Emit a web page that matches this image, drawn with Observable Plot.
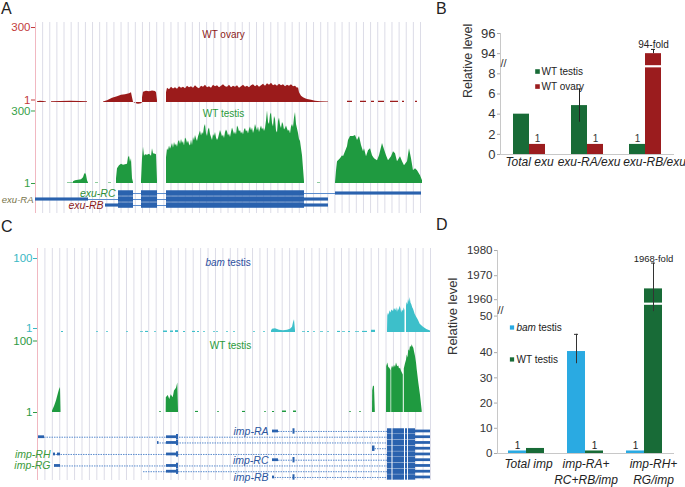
<!DOCTYPE html>
<html>
<head>
<meta charset="utf-8">
<script src="https://cdn.jsdelivr.net/npm/d3@7"></script>
<script src="https://cdn.jsdelivr.net/npm/@observablehq/plot@0.6"></script>
<style>
  body { margin: 0; background: #fff; }
  #fig { position: relative; width: 685px; height: 487px; overflow: hidden;
         font-family: "Liberation Sans", Arial, Helvetica, sans-serif; background: #fff; }
  #fig svg { overflow: visible; }
  .letter { position: absolute; font-size: 16px; color: #222; line-height: 16px; }
</style>
</head>
<body>
<div id="fig"></div>
<script>
// ================= DATA =================
// ---- Panel A: exu locus (locus position units, 0 = left edge of browser window) ----
const exuDomain = [0, 385];
const exuOvarySegs = [
  [[2,4],[5,6],[8,5],[11,3]],
  [[16,4],[25,5],[35,6],[45,5],[52,4]],
  [[68,3],[72,8],[77,18],[82,24],[86,30],[90,32],[94,36],[96,40],[97,20],[98,2],[100,-3],[103,-6],[106,-4],[107,0]],
  [[107,20],[108,42],[111,46],[114,44],[117,47],[120,45],[121,40],[122,8]],
  [[131,40],[132,58],[134,52],[136,62],[138,55],[140,60],[142,54],[144,64],[146,58],[148,62],[150,56],[152,66],
   [154,60],[156,64],[158,58],[160,68],[162,60],[164,56],[166,66],[168,62],[170,70],[172,60],[174,64],[176,58],
   [178,70],[180,64],[182,68],[184,60],[186,66],[188,72],[190,64],[192,62],[194,70],[196,60],[198,66],[200,62],
   [202,68],[204,58],[206,64],[208,70],[210,62],[212,66],[214,60],[216,68],[218,72],[220,64],[222,70],[224,62],
   [226,68],[228,74],[230,66],[232,76],[234,70],[236,78],[238,68],[240,72],[242,66],[244,74],[246,68],[248,72],
   [250,64],[252,70],[254,66],[256,72],[258,64],[260,66],[262,58],[263,60],[264,40],[266,26],[268,20],[270,16],
   [272,13],[276,10],[280,6],[285,4],[293,3]]
];
const exuOvaryDashes = [[312,317],[325,331],[336,339],[343,349],[355,363],[367,369],[380,382]];
const exuTestisSegs = [
  [[32,3],[38,3]],
  [[38,8],[40,12],[43,14],[46,16],[48,24],[49,36],[50,42],[51,34],[52,12],[53,3]],
  [[60,3],[63,3]],
  [[73,3],[76,3]],
  [[81,20],[82,60],[84,72],[86,78],[88,74],[90,76],[92,78],[93,104],[94,110],[95,86],[96,100],[97,20],[98,4]],
  [[106,10],[107,100],[108,146],[109,110],[110,116],[112,114],[114,118],[116,110],[117,140],[118,120],[120,118],[121,116],[122,10]],
  [[131,104],[132,140],[133,132],[134,150],[135,138],[136,148],[137,160],[138,142],[139,164],[140,150],[141,158],
   [142,146],[143,166],[144,172],[145,156],[146,176],[147,160],[148,168],[149,150],[150,182],[151,176],[152,160],
   [153,170],[154,156],[155,150],[156,174],[157,152],[158,184],[159,170],[160,192],[161,178],[162,168],[163,186],
   [164,198],[165,210],[166,190],[167,204],[168,196],[169,226],[170,236],[171,200],[172,188],[173,214],[174,222],
   [175,196],[176,184],[177,172],[178,196],[179,188],[180,204],[181,182],[182,172],[183,180],[184,196],[185,212],
   [186,200],[187,186],[188,194],[189,180],[190,204],[191,214],[192,206],[193,190],[194,198],[195,184],[196,204],
   [197,222],[198,210],[199,196],[200,206],[201,194],[202,230],[203,222],[204,206],[205,212],[206,198],[207,206],
   [208,194],[209,214],[210,220],[211,206],[212,212],[213,198],[214,216],[215,226],[216,210],[217,222],[218,200],
   [219,214],[220,236],[221,222],[222,210],[223,226],[224,204],[225,218],[226,230],[227,214],[228,222],[229,208],
   [230,220],[231,250],[232,290],[233,244],[234,236],[235,274],[236,282],[237,240],[238,226],[239,268],[240,256],
   [241,210],[242,202],[243,248],[244,262],[245,232],[246,220],[247,244],[248,236],[249,214],[250,220],[251,230],
   [252,218],[253,208],[254,214],[255,198],[256,226],[257,236],[258,224],[259,262],[260,284],[261,236],[262,218],
   [263,200],[264,176],[265,168],[266,140],[267,112],[268,60],[269,8]],
  [[282,3],[285,3]],
  [[300,4],[301,52],[302,88],[305,100],[307,112],[308,108],[310,128],[312,148],[313,172],[315,188],[318,188],
   [320,192],[322,172],[324,188],[326,152],[328,128],[329,140],[331,108],[333,132],[335,140],[337,112],[339,100],
   [342,92],[344,112],[347,160],[348,148],[351,112],[353,92],[356,108],[358,128],[360,120],[362,88],[365,108],
   [367,88],[369,72],[372,88],[374,140],[376,100],[378,52],[380,60],[382,52],[385,32],[387,12]]
];
const exuRows = ["exu-RC", "exu-RA", "exu-RB"];
const exuIntrons = [
  { tx: "exu-RC", start: 98, end: 300 },
  { tx: "exu-RA", start: 53, end: 269 },
  { tx: "exu-RB", start: 70, end: 269 }
];
const exuExons = [
  { tx: "exu-RC", start: 83,  end: 98,  kind: "cds" }, { tx: "exu-RC", start: 106, end: 122, kind: "cds" },
  { tx: "exu-RC", start: 131, end: 269, kind: "cds" }, { tx: "exu-RC", start: 300, end: 386, kind: "utr" },
  { tx: "exu-RA", start: 0,   end: 53,  kind: "utr" }, { tx: "exu-RA", start: 83,  end: 98,  kind: "cds" },
  { tx: "exu-RA", start: 106, end: 122, kind: "cds" }, { tx: "exu-RA", start: 131, end: 269, kind: "cds" },
  { tx: "exu-RA", start: 269, end: 293, kind: "utr" },
  { tx: "exu-RB", start: 70,  end: 83,  kind: "utr" }, { tx: "exu-RB", start: 83,  end: 98,  kind: "cds" },
  { tx: "exu-RB", start: 106, end: 122, kind: "cds" }, { tx: "exu-RB", start: 131, end: 269, kind: "cds" },
  { tx: "exu-RB", start: 269, end: 293, kind: "utr" }
];
const exuLabels = [
  { tx: "exu-RC", pos: 80, color: "#2f8f3a", size: 10.5 },
  { tx: "exu-RA", pos: -2, color: "#77744a", size: 9.5 },
  { tx: "exu-RB", pos: 68, color: "#8b1a1a", size: 10.5 }
];

// ---- Panel B ----
const exuGroups = ["Total exu", "exu-RA/exu", "exu-RB/exu"];
const exuTestisLevel = [4.0, 4.85, 1.0];
const exuOvaryLevel = [1.0, 1.0, 94.0];
const exuTestisErr = [null, [3.2, 6.5], null];
const exuOvaryErr = [null, null, [94.0, 94.42]];
const bTickValues = [0, 2, 4, 6, 8, 94, 96];
const bTickPos = [0, 2, 4, 6, 8, 10, 12];

// ---- Panel C: imp locus ----
const impDomain = [0, 393];
const bamDots = [[24,26,2.5],[59,61,2],[69,71,2],[89,91,2],[103,106,2],[108,111,2.5],[117,119,2],[126,130,3],
  [133,136,3],[138,141,3.5],[146,148,2.5],[155,158,2.5],[160,162,2.5],[166,168,2],[176,178,2],[179,181,2],
  [189,191,2],[196,198,2],[216,218,2],[226,228,2],[265,268,2],[270,272,2.5],[276,278,2],[283,286,2],[290,292,2],
  [300,303,2.5],[305,308,2],[311,313,2.5],[318,322,2],[325,330,2.5],[334,338,4]];
const bamSegs = [
  [[234,3],[235,5.5],[238,6],[240,5],[242,4],[246,3.5],[250,4],[253,5.5],[255,8],[256,14],[257,18],[258,3]],
  [[350,3],[350.3,23],[351,27],[351.7,24],[352.5,30],[353.3,27],[354.5,31],[356,29],[357,33],[358.3,30],[359.2,34],
   [360,28],[361,33],[361.7,30],[362.5,36],[363.3,33],[364.2,27],[365,31],[366,29],[366.7,34],[367.5,30]],
  [[369,36],[369.6,41],[370.4,38],[371,45],[372,41],[372.7,48],[373.5,40],[374.3,38],[375.2,34],[376,32],[377,28],
   [377.7,25],[378.5,23],[379.3,21],[380.2,19],[381,17],[382,14],[382.7,12],[384.3,10],[386,8],[389.3,5],[393,3]]
];
const impWTDots = [[122,124,2],[158,161,2.5],[180,182,2],[205,208,2.5],[227,229,2],[235,237,2.5],[245,249,3],
  [256,259,3],[312,314,2],[322,324,2]];
const impWTSegs = [
  [[15,3],[16,6],[17,9],[18,13],[19,17],[20,22],[21,27],[22,32],[23,35],[23.5,3]],
  [[128.7,3],[128.8,21],[130.7,24],[132.3,18.5],[133.7,25],[135.7,21],[137,30],[139,34],[140.3,41],[141,3]],
  [[335,3],[335.2,30],[336,37],[337,36],[337.8,3]],
  [[349,3],[349.2,63],[350.3,68],[351.3,62],[352.3,61],[353.5,58]],
  [[354.2,60],[355,64],[356,61],[357,65],[358,62],[359,68],[360.2,63],[361.3,64],[362,60],[363,61],[364,57],[364.7,55],[365.8,52]],
  [[366.8,60],[368,67],[369,72],[369.7,79],[370.5,75],[371.3,86],[372.2,84],[373,91],[374,89],[374.7,93],[375.5,90],
   [376.3,88],[377.2,82],[378,77],[379,68],[379.7,59],[381.3,41],[383,24],[384.7,3]]
];
const impRowCount = 9;
const impRowLabels = [
  { row: 0, name: "imp-RA", pos: 231, color: "#2a55a0" },
  { row: 4, name: "imp-RH", pos: 13,  color: "#3a9a3a" },
  { row: 5, name: "imp-RC", pos: 231, color: "#2a55a0" },
  { row: 6, name: "imp-RG", pos: 13,  color: "#3a9a3a" },
  { row: 8, name: "imp-RB", pos: 231, color: "#2a55a0" }
];
const impIntrons = [
  { row: 0, start: 241, end: 350 }, { row: 1, start: 7, end: 350 }, { row: 2, start: 120, end: 350 },
  { row: 3, start: 337.5, end: 350 }, { row: 4, start: 16, end: 350 }, { row: 5, start: 241, end: 350 },
  { row: 6, start: 17, end: 350 }, { row: 7, start: 106, end: 350 }, { row: 8, start: 235, end: 350 }
];
const impSharedExons = [[350, 354.5, "cds"], [355.5, 367, "cds"], [368, 370, "cds"], [371, 378, "cds"], [378, 393, "utr"]];
const impRowExons = [
  { row: 0, start: 235, end: 241, kind: "utr" }, { row: 0, start: 255.5, end: 257.5, kind: "cds" },
  { row: 1, start: 1, end: 7, kind: "utr" }, { row: 1, start: 129, end: 139, kind: "utr" }, { row: 1, start: 139, end: 141, kind: "cds" },
  { row: 2, start: 120, end: 121.5, kind: "utr" }, { row: 2, start: 129, end: 139, kind: "utr" }, { row: 2, start: 139, end: 141, kind: "cds" },
  { row: 3, start: 335, end: 337.5, kind: "cds" },
  { row: 4, start: 16, end: 18, kind: "utr" }, { row: 4, start: 20, end: 23, kind: "utr" }, { row: 4, start: 129, end: 139, kind: "utr" }, { row: 4, start: 139, end: 141, kind: "cds" },
  { row: 5, start: 235, end: 241, kind: "utr" }, { row: 5, start: 255.5, end: 257.5, kind: "cds" },
  { row: 6, start: 17, end: 23, kind: "utr" }, { row: 6, start: 129, end: 139, kind: "utr" }, { row: 6, start: 139, end: 141, kind: "cds" },
  { row: 7, start: 129, end: 139, kind: "utr" }, { row: 7, start: 139, end: 141, kind: "cds" },
  { row: 8, start: 235, end: 237, kind: "utr" }, { row: 8, start: 255.5, end: 257.5, kind: "cds" }
];

// ---- Panel D ----
const impGroups = ["Total imp", "imp-RA+\nRC+RB/imp", "imp-RH+\nRG/imp"];
const impBamLevel = [1, 40.3, 1];
const impWTLevel = [2, 1, 1964.5];
const impBamErr = [null, [35.6, 45], null];
const impWTErr = [null, null, [1955, 1975]];
const dTickValues = [0, 10, 20, 30, 40, 50, 1960, 1970, 1980];
const dTickPos = [0, 10, 20, 30, 40, 54.5, 61, 70.5, 80.5];

// ================= STYLE =================
const FONT = '"Liberation Sans", Arial, Helvetica, sans-serif';
const GRID = "#dcdce7", PINK = "#f1b8c1";
const EXON = "#2a62ae", INTRON = "#5a8cce";
const TRACK_RED = "#9b1b1b", TRACK_GREEN = "#1f9a40", TRACK_CYAN = "#3dbfca";
const BAR_GREEN = "#186b37", BAR_RED = "#9b1c1e", BAR_BLUE = "#2aaae2";
const fig = document.getElementById("fig");
function place(node, left, top) {
  node.style.position = "absolute"; node.style.left = left + "px"; node.style.top = top + "px";
  fig.appendChild(node);
}
function letter(t, left, top) {
  const d = document.createElement("div"); d.className = "letter"; d.textContent = t;
  d.style.left = left + "px"; d.style.top = top + "px"; fig.appendChild(d);
}
const baseStyle = { background: "transparent", fontFamily: FONT, overflow: "visible" };

function segRows(segs) {
  return segs.flatMap((seg, s) => seg.map(([pos, reads]) => ({ seg: s, pos, reads })));
}
function dotSegs(dots) { return dots.map(([a, b, v]) => [[a, v], [b, v]]); }

function coverageTrack(o) {
  const rows = segRows(o.segs);
  const shift = o.tickShift || [0, 0];
  const marks = [
    Plot.gridX(o.grid, { stroke: GRID, strokeOpacity: 1 }),
    Plot.ruleX([o.xDomain[0]], { stroke: PINK }),
    Plot.areaY(rows, { x: "pos", y1: 1, y2: "reads", z: "seg", fill: o.fill }),
    ...o.ticks.map((t, i) => Plot.axisY({ ticks: [t], tickSize: 4, tickPadding: 1, fontSize: 11.5, dy: shift[i],
      fill: o.tickColor, stroke: o.tickColor, label: null }))
  ];
  for (const t of o.titles) {
    marks.push(Plot.text([t.text], { text: d => d, frameAnchor: "top", textAnchor: t.anchor || "middle",
      dx: t.dx, dy: t.dy, fill: t.fill, fontSize: 10, fontStyle: t.italic ? "italic" : "normal" }));
  }
  return Plot.plot({
    width: o.width, height: o.height, marginTop: 0, marginBottom: 0,
    marginLeft: o.marginLeft, marginRight: o.marginRight, style: baseStyle,
    x: { domain: o.xDomain, axis: null },
    y: { domain: [1, o.yMax] },
    marks
  });
}

function geneTrack(o) {
  const marks = [
    Plot.gridX(o.grid, { stroke: GRID, strokeOpacity: 1 }),
    Plot.ruleX([o.xDomain[0]], { stroke: PINK }),
    Plot.ruleY(o.introns, { y: "row", x1: "start", x2: "end", stroke: INTRON, strokeWidth: 1, strokeDasharray: o.dash }),
    Plot.rect(o.exons, { x1: "start", x2: "end",
      y1: d => d.row - (d.kind === "cds" ? o.cdsH : o.utrH),
      y2: d => d.row + (d.kind === "cds" ? o.cdsH : o.utrH), fill: EXON })
  ];
  for (const l of o.labels) {
    marks.push(Plot.text([l], { x: "pos", y: "row", text: "name", textAnchor: "end", fill: l.color,
      fontStyle: "italic", fontSize: l.size || 10.5 }));
  }
  return Plot.plot({
    width: o.width, height: o.height, marginTop: 0, marginBottom: 0,
    marginLeft: o.marginLeft, marginRight: o.marginRight, style: baseStyle,
    x: { domain: o.xDomain, axis: null },
    y: { domain: o.yDomain, axis: null },
    marks
  });
}

// ================= PANEL A =================
const gridA = d3.range(1, 55).map(i => i * 385 / 54);
place(coverageTrack({
  segs: [...exuOvarySegs, ...exuOvaryDashes.map(([a, b]) => [[a, 6], [b, 6]])],
  fill: TRACK_RED, xDomain: exuDomain, grid: gridA, width: 430, height: 80, marginLeft: 35, marginRight: 10,
  yMax: 320, ticks: [1, 300], tickShift: [-2.5, 0], tickColor: "#c23b3b",
  titles: [{ text: "WT ovary", dx: -4.5, dy: 8, fill: "#8b1a1a" }]
}), 0, 22);
place(coverageTrack({
  segs: exuTestisSegs, fill: TRACK_GREEN, xDomain: exuDomain, grid: gridA, width: 430, height: 81,
  marginLeft: 35, marginRight: 10, yMax: 323.9, ticks: [1, 300], tickShift: [0, 2.5], tickColor: "#37a048",
  titles: [{ text: "WT testis", dx: -4.5, dy: 7, fill: "#2a9a3a" }]
}), 0, 102);
place(geneTrack({
  xDomain: exuDomain, grid: gridA, width: 430, height: 30, marginLeft: 35, marginRight: 10,
  yDomain: [3.33, -1.67], cdsH: 0.46, utrH: 0.26, dash: null,
  introns: exuIntrons.map(d => ({ ...d, row: exuRows.indexOf(d.tx) })),
  exons: exuExons.map(d => ({ ...d, row: exuRows.indexOf(d.tx) })),
  labels: exuLabels.map(d => ({ ...d, name: d.tx, row: exuRows.indexOf(d.tx) }))
}), 0, 183);

// ================= PANEL C =================
const gridC = d3.range(1, 54).map(i => i * 393 / 53);
place(coverageTrack({
  segs: [...dotSegs(bamDots), ...bamSegs], fill: TRACK_CYAN, xDomain: impDomain, grid: gridC,
  width: 440, height: 84, marginLeft: 37, marginRight: 10, yMax: 113.4, ticks: [1, 100], tickShift: [-4, 0],
  tickColor: "#3ab8c4",
  titles: [{ text: "bam", dx: -28.5, dy: 10, fill: "#2d4fa0", anchor: "start", italic: true },
           { text: "testis", dx: -6.5, dy: 10, fill: "#2d4fa0", anchor: "start" }]
}), 0, 248);
place(coverageTrack({
  segs: [...dotSegs(impWTDots), ...impWTSegs], fill: TRACK_GREEN, xDomain: impDomain, grid: gridC,
  width: 440, height: 80, marginLeft: 37, marginRight: 10, yMax: 109.5, ticks: [1, 100], tickShift: [0, 1.5],
  tickColor: "#2e9a44",
  titles: [{ text: "WT testis", dx: -3.5, dy: 9, fill: "#2a9a3a" }]
}), 0, 332);
const impExons = [
  ...d3.range(impRowCount).flatMap(row => impSharedExons.map(([start, end, kind]) => ({ row, start, end, kind }))),
  ...impRowExons
];
place(geneTrack({
  xDomain: impDomain, grid: gridC, width: 440, height: 68, marginLeft: 37, marginRight: 10,
  yDomain: [8.53, -3.30], cdsH: 0.47, utrH: 0.24, dash: "1.5,1",
  introns: impIntrons, exons: impExons, labels: impRowLabels
}), 0, 412);

// ================= PANEL B =================
{
  const bY = d3.scaleLinear().domain(bTickValues).range(bTickPos);
  const testis = exuGroups.map((g, i) => ({ g, v: bY(exuTestisLevel[i]) }));
  const ovary = exuGroups.map((g, i) => ({ g, v: bY(exuOvaryLevel[i]) }));
  const tErr = exuGroups.map((g, i) => exuTestisErr[i] && { g, lo: bY(exuTestisErr[i][0]), hi: bY(exuTestisErr[i][1]) }).filter(Boolean);
  const oErr = exuGroups.map((g, i) => exuOvaryErr[i] && { g, lo: bY(exuOvaryErr[i][0]), hi: bY(exuOvaryErr[i][1]) }).filter(Boolean);
  const labelShift = [0, 1.5, 9];
  const svg = Plot.plot({
    width: 245, height: 160, marginLeft: 60, marginRight: 11, marginTop: 8, marginBottom: 31,
    style: { ...baseStyle, fontSize: "12px" },
    x: { domain: exuGroups, padding: 0, axis: null },
    y: { domain: [0, 12] },
    marks: [
      Plot.ruleY([0], { stroke: "#c8c8c8" }),
      Plot.ruleX([exuGroups[0]], { x: d => d, dx: -29, y1: 0, y2: 12, stroke: "#c8c8c8" }),
      Plot.barY(testis, { x: "g", y: "v", fill: BAR_GREEN, insetLeft: 13, insetRight: 29 }),
      Plot.barY(ovary, { x: "g", y: "v", fill: BAR_RED, insetLeft: 29, insetRight: 13 }),
      Plot.tickY([{ g: exuGroups[2], y: 8.75 }], { x: "g", y: "y", stroke: "white", strokeWidth: 2.2, insetLeft: 28, insetRight: 12 }),
      Plot.ruleX(tErr, { x: "g", y1: "lo", y2: "hi", dx: -8, stroke: "#222" }),
      Plot.tickY(tErr, { x: "g", y: "hi", stroke: "#222", insetLeft: 19, insetRight: 35 }),
      Plot.ruleX(oErr, { x: "g", y1: "lo", y2: "hi", dx: 8, stroke: "#222" }),
      Plot.tickY(oErr, { x: "g", y: "hi", stroke: "#222", insetLeft: 35, insetRight: 19 }),
      Plot.text(ovary.filter(d => d.v <= 1), { x: "g", y: "v", text: () => "1", dx: 8, dy: -2, lineAnchor: "bottom", fontSize: 10, fill: "#333" }),
      Plot.text(testis.filter(d => d.v <= 1), { x: "g", y: "v", text: () => "1", dx: -8, dy: -2, lineAnchor: "bottom", fontSize: 10, fill: "#333" }),
      Plot.text(oErr, { x: "g", y: "hi", text: () => "94-fold", dx: 8, dy: -1, lineAnchor: "bottom", fontSize: 10, fill: "#222" }),
      Plot.text([{ y: 9.03 }], { y: "y", frameAnchor: "left", text: () => "//", fontSize: 11, fill: "#333" }),
      // legend
      Plot.dot([{ g: exuGroups[0], y: 8.23 }], { x: "g", y: "y", dx: 8, symbol: "square", r: 2.6, fill: BAR_GREEN }),
      Plot.dot([{ g: exuGroups[0], y: 6.74 }], { x: "g", y: "y", dx: 8, symbol: "square", r: 2.6, fill: BAR_RED }),
      Plot.text([{ g: exuGroups[0], y: 8.23, t: "WT testis" }], { x: "g", y: "y", text: "t", dx: 12, textAnchor: "start", fontSize: 10, fill: "#222" }),
      Plot.text([{ g: exuGroups[0], y: 6.74, t: "WT ovary" }], { x: "g", y: "y", text: "t", dx: 12, textAnchor: "start", fontSize: 10, fill: "#222" }),
      // axes
      Plot.axisY({ ticks: bTickPos, tickFormat: d => String(bTickValues[bTickPos.indexOf(d)]), tickSize: 3, tickPadding: 2,
        fontSize: 13, fill: "#333", stroke: "#aaa", label: null }),
      ...exuGroups.map((g, i) => Plot.text([g], { x: d => d, text: d => d, frameAnchor: "bottom", lineAnchor: "top",
        dy: 3, dx: labelShift[i], fontSize: 12, fontStyle: "italic", fill: "#222" })),
      Plot.text(["Relative level"], { text: d => d, frameAnchor: "left", rotate: -90, dx: -33, dy: 4, fontSize: 12.5, fill: "#333" })
    ]
  });
  place(svg, 440, 25);
}

// ================= PANEL D =================
{
  const lower = d3.scaleLinear().domain(dTickValues.slice(0, 6)).range(dTickPos.slice(0, 6));
  const upper = d3.scaleLinear().domain(dTickValues.slice(6)).range(dTickPos.slice(6));
  const dY = v => (v >= 1000 ? upper(v) : lower(v));
  const bam = impGroups.map((g, i) => ({ g, v: dY(impBamLevel[i]) }));
  const wt = impGroups.map((g, i) => ({ g, v: dY(impWTLevel[i]) }));
  const bErr = impGroups.map((g, i) => impBamErr[i] && { g, lo: dY(impBamErr[i][0]), hi: dY(impBamErr[i][1]) }).filter(Boolean);
  const wErr = impGroups.map((g, i) => impWTErr[i] && { g, lo: dY(impWTErr[i][0]), hi: dY(impWTErr[i][1]) }).filter(Boolean);
  const labelShift = [1.5, 0, 8.5];
  const svg = Plot.plot({
    width: 245, height: 252, marginLeft: 57, marginRight: 11, marginTop: 15, marginBottom: 34,
    style: { ...baseStyle, fontSize: "12px" },
    x: { domain: impGroups, padding: 0, axis: null },
    y: { domain: [0, 80.5] },
    marks: [
      Plot.ruleY([0], { stroke: "#c8c8c8" }),
      Plot.ruleX([impGroups[0]], { x: d => d, dx: -29.5, y1: 0, y2: 80.5, stroke: "#c8c8c8" }),
      Plot.barY(bam, { x: "g", y: "v", fill: BAR_BLUE, insetLeft: 11, insetRight: 30 }),
      Plot.barY(wt, { x: "g", y: "v", fill: BAR_GREEN, insetLeft: 29, insetRight: 12 }),
      Plot.tickY([{ g: impGroups[2], y: 59.4 }], { x: "g", y: "y", stroke: "white", strokeWidth: 2.2, insetLeft: 28, insetRight: 11 }),
      Plot.ruleX(bErr, { x: "g", y1: "lo", y2: "hi", dx: -9.5, stroke: "#333" }),
      Plot.tickY(bErr, { x: "g", y: "hi", stroke: "#333", insetLeft: 18, insetRight: 37 }),
      Plot.ruleX(wErr, { x: "g", y1: "lo", y2: "hi", dx: 8.5, stroke: "#333" }),
      Plot.tickY(wErr, { x: "g", y: "hi", stroke: "#333", insetLeft: 36, insetRight: 19 }),
      Plot.text(bam.filter(d => d.v <= 1), { x: "g", y: "v", text: () => "1", dx: -9.5, dy: -2, lineAnchor: "bottom", fontSize: 10, fill: "#222" }),
      Plot.text(wt.filter(d => d.v <= 1), { x: "g", y: "v", text: () => "1", dx: 8.5, dy: -2, lineAnchor: "bottom", fontSize: 10, fill: "#222" }),
      Plot.text(wErr, { x: "g", y: "hi", text: () => "1968-fold", dx: 8.5, dy: -1, lineAnchor: "bottom", fontSize: 9.5, fill: "#222" }),
      Plot.text([{ y: 56.7 }], { y: "y", frameAnchor: "left", text: () => "//", fontSize: 11, fill: "#333" }),
      // legend
      Plot.dot([{ g: impGroups[0], y: 49.96 }], { x: "g", y: "y", dx: -15, symbol: "square", r: 2.4, fill: BAR_BLUE }),
      Plot.dot([{ g: impGroups[0], y: 37.3 }], { x: "g", y: "y", dx: -15, symbol: "square", r: 2.4, fill: BAR_GREEN }),
      Plot.text([{ g: impGroups[0], y: 49.96, t: "bam" }], { x: "g", y: "y", text: "t", dx: -10.5, textAnchor: "start", fontSize: 10, fontStyle: "italic", fill: "#222" }),
      Plot.text([{ g: impGroups[0], y: 49.96, t: "testis" }], { x: "g", y: "y", text: "t", dx: 11.5, textAnchor: "start", fontSize: 10, fill: "#222" }),
      Plot.text([{ g: impGroups[0], y: 37.3, t: "WT testis" }], { x: "g", y: "y", text: "t", dx: -10.5, textAnchor: "start", fontSize: 10, fill: "#222" }),
      // axes
      Plot.axisY({ ticks: dTickPos, tickFormat: d => String(dTickValues[dTickPos.indexOf(d)]), tickSize: 3, tickPadding: 2,
        fontSize: 11.5, fill: "#333", stroke: "#aaa", label: null }),
      ...impGroups.map((g, i) => Plot.text([g], { x: d => d, text: d => d, frameAnchor: "bottom", lineAnchor: "top",
        dy: 4, dx: labelShift[i], fontSize: 12, lineHeight: 1.27, fontStyle: "italic", fill: "#222" })),
      Plot.text(["Relative level"], { text: d => d, frameAnchor: "left", rotate: -90, dx: -45, dy: 3, fontSize: 13, fill: "#333" })
    ]
  });
  place(svg, 440, 235);
}

// ================= PANEL LETTERS =================
letter("A", 1, 1);
letter("B", 436, 1);
letter("C", 1, 219);
letter("D", 436, 217);
</script>
</body>
</html>
